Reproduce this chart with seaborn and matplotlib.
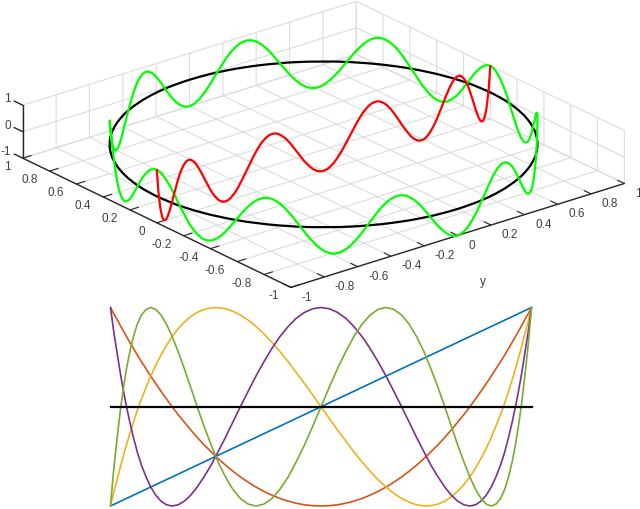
import matplotlib
matplotlib.use('Agg')
import matplotlib.pyplot as plt
import numpy as np
import pandas as pd
import seaborn as sns

# ring around the disk (x runs 1 at left to -1 at front)
ring_x = [0, .020, .039, .059, .078, .098, .118, .137, .156, .176, .195, .214, .233, .253, .271, .290,
          .309, .328, .346, .365, .383, .401, .419, .436, .454, .471, .489, .506, .522, .539, .556, .572,
          .588, .604, .619, .634, .649, .664, .679, .693, .707, .721, .734, .748, .760, .773, .785, .797,
          .809, .820, .831, .842, .853, .863, .873, .882, .891, .900, .908, .916, .924, .931, .938, .945,
          .951, .957, .962, .968, .972, .977, .981, .984, .988, .991, .993, .995, .997, .998, .999, 1.0, 1.0,
          1.0, .999, .998, .997, .995, .993, .991, .988, .984, .981, .977, .972, .968, .962, .957, .951,
          .945, .938, .931, .924, .916, .908, .900, .891, .882, .873, .863, .853, .842, .831, .820, .809,
          .797, .785, .773, .760, .748, .734, .721, .707, .693, .679, .664, .649, .634, .619, .604, .588,
          .572, .556, .539, .522, .506, .489, .471, .454, .436, .419, .401, .383, .365, .346, .328, .309,
          .290, .271, .253, .233, .214, .195, .176, .156, .137, .118, .098, .078, .059, .039, .020, 0,
          -.020, -.039, -.059, -.078, -.098, -.118, -.137, -.156, -.176, -.195, -.214, -.233, -.253, -.271, -.290,
          -.309, -.328, -.346, -.365, -.383, -.401, -.419, -.436, -.454, -.471, -.489, -.506, -.522, -.539, -.556, -.572,
          -.588, -.604, -.619, -.634, -.649, -.664, -.679, -.693, -.707, -.721, -.734, -.748, -.760, -.773, -.785, -.797,
          -.809, -.820, -.831, -.842, -.853, -.863, -.873, -.882, -.891, -.900, -.908, -.916, -.924, -.931, -.938, -.945,
          -.951, -.957, -.962, -.968, -.972, -.977, -.981, -.984, -.988, -.991, -.993, -.995, -.997, -.998, -.999, -1.0, -1.0,
          -1.0, -.999, -.998, -.997, -.995, -.993, -.991, -.988, -.984, -.981, -.977, -.972, -.968, -.962, -.957, -.951,
          -.945, -.938, -.931, -.924, -.916, -.908, -.900, -.891, -.882, -.873, -.863, -.853, -.842, -.831, -.820, -.809,
          -.797, -.785, -.773, -.760, -.748, -.734, -.721, -.707, -.693, -.679, -.664, -.649, -.634, -.619, -.604, -.588,
          -.572, -.556, -.539, -.522, -.506, -.489, -.471, -.454, -.436, -.419, -.401, -.383, -.365, -.346, -.328, -.309,
          -.290, -.271, -.253, -.233, -.214, -.195, -.176, -.156, -.137, -.118, -.098, -.078, -.059, -.039, -.020, 0]
ring_y = [1.0, 1.0, .999, .998, .997, .995, .993, .991, .988, .984, .981, .977, .972, .968, .962, .957, .951,
          .945, .938, .931, .924, .916, .908, .900, .891, .882, .873, .863, .853, .842, .831, .820, .809,
          .797, .785, .773, .760, .748, .734, .721, .707, .693, .679, .664, .649, .634, .619, .604, .588,
          .572, .556, .539, .522, .506, .489, .471, .454, .436, .419, .401, .383, .365, .346, .328, .309,
          .290, .271, .253, .233, .214, .195, .176, .156, .137, .118, .098, .078, .059, .039, .020, 0,
          -.020, -.039, -.059, -.078, -.098, -.118, -.137, -.156, -.176, -.195, -.214, -.233, -.253, -.271, -.290,
          -.309, -.328, -.346, -.365, -.383, -.401, -.419, -.436, -.454, -.471, -.489, -.506, -.522, -.539, -.556, -.572,
          -.588, -.604, -.619, -.634, -.649, -.664, -.679, -.693, -.707, -.721, -.734, -.748, -.760, -.773, -.785, -.797,
          -.809, -.820, -.831, -.842, -.853, -.863, -.873, -.882, -.891, -.900, -.908, -.916, -.924, -.931, -.938, -.945,
          -.951, -.957, -.962, -.968, -.972, -.977, -.981, -.984, -.988, -.991, -.993, -.995, -.997, -.998, -.999, -1.0, -1.0,
          -1.0, -.999, -.998, -.997, -.995, -.993, -.991, -.988, -.984, -.981, -.977, -.972, -.968, -.962, -.957, -.951,
          -.945, -.938, -.931, -.924, -.916, -.908, -.900, -.891, -.882, -.873, -.863, -.853, -.842, -.831, -.820, -.809,
          -.797, -.785, -.773, -.760, -.748, -.734, -.721, -.707, -.693, -.679, -.664, -.649, -.634, -.619, -.604, -.588,
          -.572, -.556, -.539, -.522, -.506, -.489, -.471, -.454, -.436, -.419, -.401, -.383, -.365, -.346, -.328, -.309,
          -.290, -.271, -.253, -.233, -.214, -.195, -.176, -.156, -.137, -.118, -.098, -.078, -.059, -.039, -.020, 0,
          .020, .039, .059, .078, .098, .118, .137, .156, .176, .195, .214, .233, .253, .271, .290,
          .309, .328, .346, .365, .383, .401, .419, .436, .454, .471, .489, .506, .522, .539, .556, .572,
          .588, .604, .619, .634, .649, .664, .679, .693, .707, .721, .734, .748, .760, .773, .785, .797,
          .809, .820, .831, .842, .853, .863, .873, .882, .891, .900, .908, .916, .924, .931, .938, .945,
          .951, .957, .962, .968, .972, .977, .981, .984, .988, .991, .993, .995, .997, .998, .999, 1.0, 1.0]
ring_z = [1, .981, .924, .831, .707, .556, .383, .195, 0, -.195, -.383, -.556, -.707, -.831, -.924, -.981, -1, -.981, -.924, -.831, -.707, -.556, -.383, -.195, 0, .195, .383, .556, .707, .831, .924, .981,
          1, .981, .924, .831, .707, .556, .383, .195, 0, -.195, -.383, -.556, -.707, -.831, -.924, -.981, -1, -.981, -.924, -.831, -.707, -.556, -.383, -.195, 0, .195, .383, .556, .707, .831, .924, .981,
          1, .981, .924, .831, .707, .556, .383, .195, 0, -.195, -.383, -.556, -.707, -.831, -.924, -.981, -1, -.981, -.924, -.831, -.707, -.556, -.383, -.195, 0, .195, .383, .556, .707, .831, .924, .981,
          1, .981, .924, .831, .707, .556, .383, .195, 0, -.195, -.383, -.556, -.707, -.831, -.924, -.981, -1, -.981, -.924, -.831, -.707, -.556, -.383, -.195, 0, .195, .383, .556, .707, .831, .924, .981,
          1, .981, .924, .831, .707, .556, .383, .195, 0, -.195, -.383, -.556, -.707, -.831, -.924, -.981, -1, -.981, -.924, -.831, -.707, -.556, -.383, -.195, 0, .195, .383, .556, .707, .831, .924, .981,
          1, .981, .924, .831, .707, .556, .383, .195, 0, -.195, -.383, -.556, -.707, -.831, -.924, -.981, -1, -.981, -.924, -.831, -.707, -.556, -.383, -.195, 0, .195, .383, .556, .707, .831, .924, .981,
          1, .981, .924, .831, .707, .556, .383, .195, 0, -.195, -.383, -.556, -.707, -.831, -.924, -.981, -1, -.981, -.924, -.831, -.707, -.556, -.383, -.195, 0, .195, .383, .556, .707, .831, .924, .981,
          1, .981, .924, .831, .707, .556, .383, .195, 0, -.195, -.383, -.556, -.707, -.831, -.924, -.981, -1, -.981, -.924, -.831, -.707, -.556, -.383, -.195, 0, .195, .383, .556, .707, .831, .924, .981,
          1, .981, .924, .831, .707, .556, .383, .195, 0, -.195, -.383, -.556, -.707, -.831, -.924, -.981, -1, -.981, -.924, -.831, -.707, -.556, -.383, -.195, 0, .195, .383, .556, .707, .831, .924, .981,
          1, .981, .924, .831, .707, .556, .383, .195, 0, -.195, -.383, -.556, -.707, -.831, -.924, -.981, -1, -.981, -.924, -.831, -.707, -.556, -.383, -.195, 0, .195, .383, .556, .707, .831, .924, .981,
          1]

# bottom panel curves, one list per colour
curve_x = [1.0, .999, .997, .993, .988, .981, .972, .962, .951, .938, .924, .908, .891, .873, .853, .831,
           .809, .785, .760, .734, .707, .679, .649, .619, .588, .556, .522, .489, .454, .419, .383, .346,
           .309, .271, .233, .195, .156, .118, .078, .039, 0,
           -.039, -.078, -.118, -.156, -.195, -.233, -.271, -.309, -.346, -.383, -.419, -.454, -.489, -.522, -.556,
           -.588, -.619, -.649, -.679, -.707, -.734, -.760, -.785, -.809, -.831, -.853, -.873, -.891, -.908, -.924, -.938,
           -.951, -.962, -.972, -.981, -.988, -.993, -.997, -.999, -1.0]
curve_blue = curve_x
curve_orange = [1.0, .997, .988, .972, .951, .924, .891, .853, .809, .760, .707, .649, .588, .522, .454, .383, .309, .233, .156, .078, 0,
                -.078, -.156, -.233, -.309, -.383, -.454, -.522, -.588, -.649, -.707, -.760, -.809, -.853, -.891, -.924, -.951, -.972, -.988, -.997, -1.0,
                -.997, -.988, -.972, -.951, -.924, -.891, -.853, -.809, -.760, -.707, -.649, -.588, -.522, -.454, -.383, -.309, -.233, -.156, -.078, 0,
                .078, .156, .233, .309, .383, .454, .522, .588, .649, .707, .760, .809, .853, .891, .924, .951, .972, .988, .997, 1.0]
curve_yellow = [1.0, .993, .972, .938, .891, .831, .760, .679, .588, .489, .383, .271, .156, .039, -.078, -.195, -.309, -.419, -.522, -.619,
                -.707, -.785, -.853, -.908, -.951, -.981, -.997, -.999, -.988, -.962, -.924, -.873, -.809, -.734, -.649, -.556, -.454, -.346, -.233, -.118, 0,
                .118, .233, .346, .454, .556, .649, .734, .809, .873, .924, .962, .988, .999, .997, .981, .951, .908, .853, .785,
                .707, .619, .522, .419, .309, .195, .078, -.039, -.156, -.271, -.383, -.489, -.588, -.679, -.760, -.831, -.891, -.938, -.972, -.993, -1.0]
curve_purple = [1.0, .988, .951, .891, .809, .707, .588, .454, .309, .156, 0, -.156, -.309, -.454, -.588, -.707, -.809, -.891, -.951, -.988,
                -1.0, -.988, -.951, -.891, -.809, -.707, -.588, -.454, -.309, -.156, 0, .156, .309, .454, .588, .707, .809, .891, .951, .988,
                1.0, .988, .951, .891, .809, .707, .588, .454, .309, .156, 0, -.156, -.309, -.454, -.588, -.707, -.809, -.891, -.951, -.988,
                -1.0, -.988, -.951, -.891, -.809, -.707, -.588, -.454, -.309, -.156, 0, .156, .309, .454, .588, .707, .809, .891, .951, .988, 1.0]
curve_green = [1.0, .981, .924, .831, .707, .556, .383, .195, 0, -.195, -.383, -.556, -.707, -.831, -.924, -.981,
               -1.0, -.981, -.924, -.831, -.707, -.556, -.383, -.195, 0, .195, .383, .556, .707, .831, .924, .981,
               1.0, .981, .924, .831, .707, .556, .383, .195, 0, -.195, -.383, -.556, -.707, -.831, -.924, -.981,
               -1.0, -.981, -.924, -.831, -.707, -.556, -.383, -.195, 0, .195, .383, .556, .707, .831, .924, .981,
               1.0, .981, .924, .831, .707, .556, .383, .195, 0, -.195, -.383, -.556, -.707, -.831, -.924, -.981, -1.0]
zero_x = [-1, 1]
zero_y = [0, 0]

tick_vals = [-1, -.8, -.6, -.4, -.2, 0, .2, .4, .6, .8, 1]
tick_text = ['-1', '-0.8', '-0.6', '-0.4', '-0.2', '0', '0.2', '0.4', '0.6', '0.8', '1']
z_vals = [-1, 0, 1]
z_text = ['-1', '0', '1']

sns.set_style('white')
plt.rcParams['font.family'] = ['Liberation Sans', 'DejaVu Sans']
plt.rcParams['font.size'] = 8.5
plt.rcParams['grid.color'] = '#dcdcdc'
plt.rcParams['grid.linewidth'] = 0.8
plt.rcParams['axes.linewidth'] = 1.0

fig = plt.figure(figsize=(6.4, 5.09), dpi=100)

#%% top panel
side = 640
ax3 = fig.add_axes([(323.5 - 8.6 - side / 2) / 640, (509 - 144 - 9 - side / 2) / 509, side / 640, side / 509],
                   projection='3d', proj_type='ortho', computed_zorder=False)
ax3.patch.set_alpha(0)
ax3.set_box_aspect((1, 1, 0.1343), zoom=0.922)
ax3.view_init(elev=22.8, azim=-38.8)
ax3.set_xlim(1, -1)
ax3.set_ylim(-1, 1)
ax3.set_zlim(-1, 1)

ax3.plot(ring_x, ring_y, np.zeros(321), color='black', lw=1.6, zorder=3)
ax3.plot(ring_x, ring_y, ring_z, color='#00ff00', lw=1.6, zorder=4)
ax3.plot(np.zeros(161), ring_y[:161], ring_z[:161], color='#ff0000', lw=1.6, zorder=5)

ax3.set_xticks(tick_vals)
ax3.set_yticks(tick_vals)
ax3.set_zticks(z_vals)
ax3.text(-1.515, -.265, -1, 'y', color='#404040', ha='center', va='center')
ax3.zaxis.set_ticks_position('lower')

for axis in [ax3.xaxis, ax3.yaxis, ax3.zaxis]:
    axis.set_pane_color((1, 1, 1, 0))
    axis.pane.set_edgecolor('#dcdcdc')
    axis.line.set_color('#262626')
    axis.line.set_linewidth(1.0)
    axis._axinfo['tick'].update(inward_factor=0, outward_factor=0.32)
    axis.set_tick_params(label1On=False)
ax3.tick_params(axis='x', color='#262626')
ax3.tick_params(axis='y', color='#262626')
ax3.tick_params(axis='z', color=(0, 0, 0, 0))

# labels placed by hand, mpl puts them too far along the tick direction
for val, lab in zip(tick_vals, tick_text):
    ax3.text(val, -1.072, -1.2, lab, color='#404040', ha='right', va='center')
    ax3.text(-1.08, val, -1.19, lab, color='#404040', ha='left', va='center')

# the z ticks stick out along x from the left corner of the box
for z_val, z_lab in zip(z_vals, z_text):
    ax3.plot([1, 1.065], [-1, -1], [z_val, z_val], color='#262626', lw=1.0, zorder=2)
    ax3.text(1.09, -1, z_val, z_lab, color='#404040', ha='right', va='center')

#%% bottom panel
curves = pd.DataFrame({'x': curve_x * 5,
                       'value': curve_blue + curve_orange + curve_yellow + curve_purple + curve_green,
                       'curve': np.repeat(['blue', 'orange', 'yellow', 'purple', 'green'], len(curve_x))})
colors = ['#0072BD', '#D95319', '#EDB120', '#7E2F8E', '#77AC30']

ax2 = fig.add_axes([110.5 / 640, 3 / 509, 421 / 640, 198.5 / 509])
sns.lineplot(data=curves, x='x', y='value', hue='curve', palette=colors, sort=False, estimator=None,
             lw=1.2, legend=False, ax=ax2, clip_on=False)
sns.lineplot(x=zero_x, y=zero_y, color='black', lw=1.6, ax=ax2, zorder=5, clip_on=False, solid_capstyle='projecting')
ax2.set_xlim(-1, 1)
ax2.set_ylim(-1, 1)
ax2.axis('off')

fig.savefig('out.png', dpi=100)
